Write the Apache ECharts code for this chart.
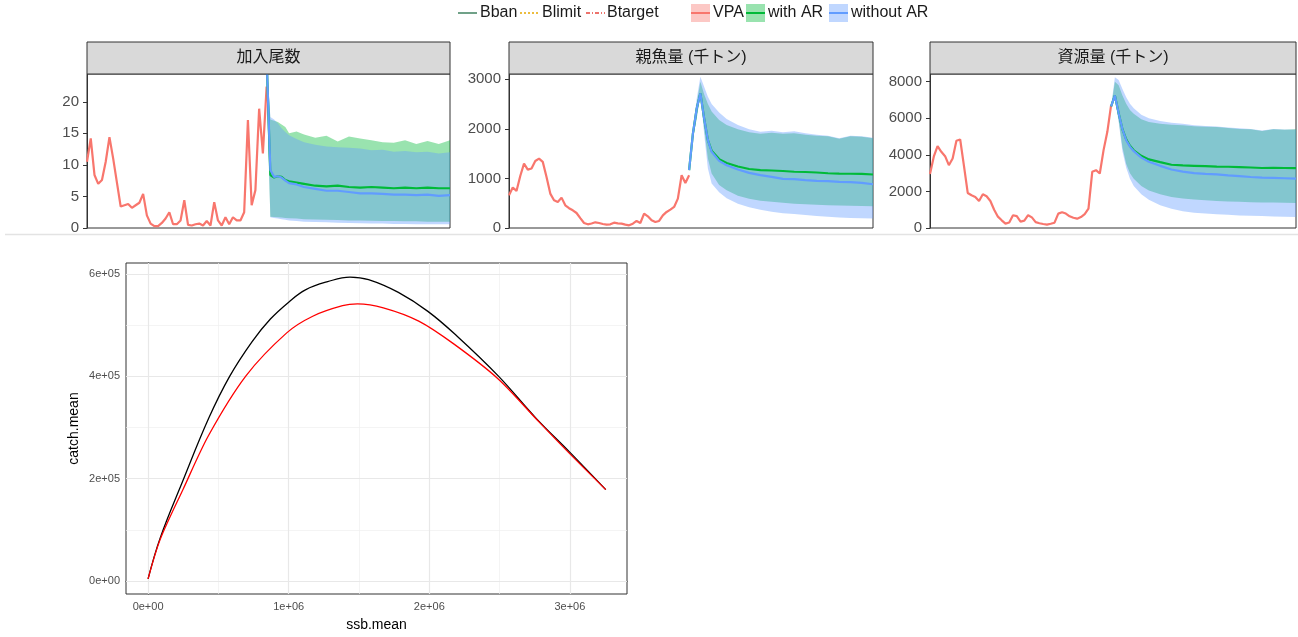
<!DOCTYPE html>
<html><head><meta charset="utf-8">
<script src="https://cdn.jsdelivr.net/npm/echarts@6/dist/echarts.min.js"></script>
<style>html,body{margin:0;padding:0;background:#fff}#c{width:1298px;height:637px}</style>
</head><body><div id="c"></div>
<script>
// ---------- data ----------
const vpaYears = [1970,1971,1972,1973,1974,1975,1976,1977,1978,1979,1980,1981,1982,1983,1984,1985,1986,1987,1988,1989,1990,1991,1992,1993,1994,1995,1996,1997,1998,1999,2000,2001,2002,2003,2004,2005,2006,2007,2008,2009,2010,2011,2012,2013,2014,2015,2016,2017,2018];
const recVPA = [10.5,14.2,8.4,7.0,7.6,10.5,14.4,11.0,7.2,3.4,3.6,3.8,3.2,3.6,4.0,5.4,2.0,0.7,0.3,0.3,0.8,1.5,2.5,0.6,0.6,1.2,4.4,0.5,0.4,0.6,0.7,0.4,1.1,0.4,4.1,1.2,0.4,1.7,0.6,1.7,1.2,1.2,2.5,17.1,3.6,6.0,18.9,11.8,22.4];
const ssbVPA = [660,816,748,1050,1300,1177,1200,1352,1401,1334,1031,694,559,526,613,458,400,357,303,200,101,74,90,115,101,80,67,74,108,95,88,67,54,88,142,101,290,236,155,121,142,256,324,370,425,593,1065,910,1065];
const bioVPA = [2950,3900,4476,4166,3928,3435,3800,4768,4841,3400,1916,1789,1698,1479,1844,1735,1479,1000,620,420,237,300,700,650,350,400,700,580,320,260,220,183,230,290,785,860,790,640,560,510,600,760,1059,3070,3161,2980,4258,5262,6723];

const projYears = [2018,2019,2020,2021,2022,2023,2024,2026,2028,2031,2034,2037,2040,2043,2046,2049,2052,2055,2058,2061,2064,2067];
// 加入尾数
const recBlueMed  = [27,9.2,8.1,8.2,8.0,7.5,7.1,6.9,6.5,6.2,5.9,5.9,5.7,5.5,5.5,5.4,5.3,5.3,5.2,5.3,5.1,5.2];
const recGreenMed = [27,8.4,8.0,8.2,8.1,7.6,7.4,7.2,7.0,6.7,6.6,6.7,6.5,6.4,6.5,6.4,6.3,6.4,6.3,6.4,6.3,6.3];
const recGreenHi  = [27,17.2,17.0,16.8,16.4,16.0,15.0,15.3,14.8,14.3,14.6,13.7,14.5,14.2,13.9,13.6,13.5,13.9,13.3,13.8,13.3,13.9];
const recGreenLo  = [22,1.8,1.75,1.7,1.65,1.6,1.55,1.5,1.4,1.35,1.3,1.25,1.2,1.2,1.15,1.1,1.1,1.05,1.05,1.0,1.0,1.0];
const recBlueHi   = [27,17.6,17.2,16.6,15.8,15.2,14.7,14.1,13.6,13.2,12.9,12.8,12.7,12.6,12.3,12.4,12.1,12.2,12.0,12.1,11.8,12.0];
const recBlueLo   = [22,1.7,1.6,1.5,1.4,1.3,1.2,1.1,1.0,0.95,0.9,0.85,0.8,0.75,0.7,0.7,0.65,0.65,0.6,0.6,0.6,0.6];
// 親魚量
const ssbBlueMed  = [1167,1900,2400,2717,2212,1773,1537,1355,1267,1181,1113,1066,1032,992,985,965,951,945,931,925,910,883];
const ssbGreenMed = [1167,1900,2400,2717,2212,1773,1560,1390,1310,1240,1190,1167,1160,1150,1135,1130,1120,1105,1099,1095,1090,1079];
const ssbBlueHi   = [1167,2000,2600,3050,2850,2650,2500,2330,2200,2080,1990,1940,1960,1930,1950,1910,1880,1860,1810,1860,1850,1820];
const ssbGreenHi  = [1167,1950,2500,2950,2700,2500,2350,2180,2080,1990,1930,1900,1920,1900,1910,1880,1860,1850,1800,1850,1840,1810];
const ssbBlueLo   = [1167,1800,2200,2700,1900,1200,900,720,600,490,420,370,330,300,280,260,240,225,210,200,195,190];
const ssbGreenLo  = [1167,1800,2200,2700,2000,1400,1100,870,760,650,590,550,530,510,490,480,470,460,455,450,445,440];
// 資源量
const bioBlueMed  = [6650,7250,6270,5400,4800,4450,4200,3850,3620,3400,3200,3080,3000,2960,2930,2880,2840,2790,2760,2740,2720,2700];
const bioGreenMed = [6650,7250,6270,5400,4850,4500,4250,3950,3750,3600,3460,3420,3400,3380,3360,3350,3330,3310,3280,3290,3280,3270];
const bioBlueHi   = [6650,8250,8100,7600,7150,6800,6550,6200,6000,5850,5750,5700,5620,5580,5550,5500,5450,5420,5330,5420,5380,5380];
const bioGreenHi  = [6650,8000,7800,7250,6800,6450,6250,5950,5800,5700,5650,5620,5560,5540,5520,5470,5420,5400,5310,5400,5370,5400];
const bioBlueLo   = [6650,7100,5800,4200,3300,2700,2300,1850,1550,1250,1050,920,840,790,750,720,690,670,650,630,610,600];
const bioGreenLo  = [6650,7150,5900,4400,3500,3000,2700,2300,2050,1850,1700,1620,1560,1520,1480,1450,1430,1410,1400,1390,1380,1370];

const panelTitles = ['加入尾数','親魚量 (千トン)','資源量 (千トン)'];
const panelYMax = [24.4, 3107, 8422];
const panelTicks = [[0,5,10,15,20],[0,1000,2000,3000],[0,2000,4000,6000,8000]];

// bottom chart
const ssbBlack   = [0,87000,246000,431000,580000,740000,870000,1000000,1119000,1277000,1436000,1568000,1780000,1990000,2200000,2490000,2760000,2995000,3255000];
const catchBlack = [4500,85000,195000,318000,400000,468000,512000,545000,569000,585000,594000,589000,564000,527000,478000,401000,318000,253000,178700];
const ssbRed     = [0,87000,250000,431000,696000,986000,1171000,1383000,1489000,1673000,1925000,2176000,2490000,2780000,2995000,3255000];
const catchRed   = [4500,82000,180000,285000,401000,485000,517500,538000,541500,534000,508000,463000,395000,311000,250000,178700];
const xTickVals = [0,1000000,2000000,3000000];
const xTickLabels = ['0e+00','1e+06','2e+06','3e+06'];
const yTickVals = [0,200000,400000,600000];
const yTickLabels = ['0e+00','2e+05','4e+05','6e+05'];
const xMinorVals = [500000,1500000,2500000];
const yMinorVals = [100000,300000,500000];

// ---------- styles ----------
const RED = '#F8766D', GREEN = '#00BA38', BLUE = '#619CFF';
const GREEN_FILL = 'rgba(0,186,56,0.4)', BLUE_FILL = 'rgba(97,156,255,0.4)', RED_FILL = 'rgba(248,118,109,0.4)';
const FONT = '"Liberation Sans","Noto Sans CJK JP",sans-serif';
const panels = [{left:87,width:363},{left:509,width:364},{left:930,width:366}];

const pairs = (xs, ys) => xs.map((x, i) => [x, ys[i]]);

function band(idx, lo, hi, fill) {
  const data = projYears.map((y, i) => [y, lo[i], hi[i]]);
  return {
    type: 'custom', xAxisIndex: idx, yAxisIndex: idx, clip: true, silent: true, z: 1,
    encode: {x: 0, y: [1, 2]}, data,
    renderItem(params, api) {
      if (params.dataIndex !== 0) return null;
      const top = data.map(d => api.coord([d[0], d[2]]));
      const bot = data.map(d => api.coord([d[0], d[1]])).reverse();
      return {type: 'polygon', shape: {points: top.concat(bot)}, style: {fill, stroke: null}};
    }
  };
}
function line(idx, xs, ys, color, width, z) {
  return {type: 'line', xAxisIndex: idx, yAxisIndex: idx, data: pairs(xs, ys), symbol: 'none',
    clip: true, lineStyle: {color, width}, itemStyle: {color}, z: z || 3, silent: true};
}

const grids = panels.map(p => ({left: p.left, top: 74, width: p.width, height: 154, show: true,
  borderColor: '#333333', borderWidth: 1, backgroundColor: '#fff'}));
grids.push({left: 126, top: 263, width: 501, height: 334, show: true, borderColor: '#333333', borderWidth: 1, backgroundColor: '#fff'});

const xAxes = panels.map((p, i) => ({type: 'value', gridIndex: i, min: 1970, max: 2067,
  axisLabel: {show: false}, axisTick: {show: false}, axisLine: {show: false}, splitLine: {show: false}}));
xAxes.push({type: 'value', gridIndex: 3, min: -157000, max: 3406000,
  axisLine: {show: true, lineStyle: {color: '#333333'}},
  axisTick: {show: true, length: 4, customValues: xTickVals, lineStyle: {color: '#333333'}},
  axisLabel: {customValues: xTickVals, formatter: v => xTickLabels[xTickVals.indexOf(v)], fontSize: 11, color: '#4D4D4D', margin: 7, fontFamily: FONT},
  splitLine: {show: false},
  name: 'ssb.mean', nameLocation: 'middle', nameGap: 24, nameTextStyle: {fontSize: 14, color: '#000', fontFamily: FONT}});

const yAxes = panels.map((p, i) => ({type: 'value', gridIndex: i, min: 0, max: panelYMax[i],
  axisLine: {show: true, lineStyle: {color: '#333333'}},
  axisTick: {show: true, length: 4, customValues: panelTicks[i], lineStyle: {color: '#333333'}},
  axisLabel: {customValues: panelTicks[i], formatter: v => String(v), fontSize: 15, color: '#4D4D4D', margin: 8, fontFamily: FONT},
  splitLine: {show: false}}));
yAxes.push({type: 'value', gridIndex: 3, min: -25200, max: 621500,
  axisLine: {show: true, lineStyle: {color: '#333333'}},
  axisTick: {show: true, length: 4, customValues: yTickVals, lineStyle: {color: '#333333'}},
  axisLabel: {customValues: yTickVals, formatter: v => yTickLabels[yTickVals.indexOf(v)], fontSize: 11, color: '#4D4D4D', margin: 6, fontFamily: FONT},
  splitLine: {show: false},
  name: 'catch.mean', nameLocation: 'middle', nameGap: 45, nameRotate: 90, nameTextStyle: {fontSize: 14, color: '#000', fontFamily: FONT}});

const series = [];
const sets = [
  [recVPA, recBlueMed, recGreenMed, recBlueLo, recBlueHi, recGreenLo, recGreenHi],
  [ssbVPA, ssbBlueMed, ssbGreenMed, ssbBlueLo, ssbBlueHi, ssbGreenLo, ssbGreenHi],
  [bioVPA, bioBlueMed, bioGreenMed, bioBlueLo, bioBlueHi, bioGreenLo, bioGreenHi]
];
sets.forEach((s, i) => {
  series.push(band(i, s[5], s[6], GREEN_FILL));
  series.push(band(i, s[3], s[4], BLUE_FILL));
  series.push(line(i, vpaYears, s[0], RED, 2.2, 3));
  series.push(line(i, projYears, s[2], GREEN, 2.2, 4));
  series.push(line(i, projYears, s[1], BLUE, 2.2, 5));
});

// bottom chart grid lines (theme_bw style) + curves
series.push({type: 'line', xAxisIndex: 3, yAxisIndex: 3, data: [], z: 1, silent: true,
  markLine: {silent: true, symbol: 'none', label: {show: false}, z: 1, animation: false,
    data: [
      ...xMinorVals.map(v => ({xAxis: v, lineStyle: {color: '#EFEFEF', width: 0.7, type: 'solid'}})),
      ...yMinorVals.map(v => ({yAxis: v, lineStyle: {color: '#EFEFEF', width: 0.7, type: 'solid'}})),
      ...xTickVals.map(v => ({xAxis: v, lineStyle: {color: '#E8E8E8', width: 1.2, type: 'solid'}})),
      ...yTickVals.map(v => ({yAxis: v, lineStyle: {color: '#E8E8E8', width: 1.2, type: 'solid'}}))
    ]}});
series.push({type: 'line', xAxisIndex: 3, yAxisIndex: 3, data: pairs(ssbBlack, catchBlack), symbol: 'none', smooth: 0.4,
  lineStyle: {color: '#000', width: 1.3}, z: 4, silent: true});
series.push({type: 'line', xAxisIndex: 3, yAxisIndex: 3, data: pairs(ssbRed, catchRed), symbol: 'none', smooth: 0.3,
  lineStyle: {color: '#FF0000', width: 1.3}, z: 5, silent: true});

// strips, legend, divider
const graphic = [];
panels.forEach((p, i) => {
  graphic.push({type: 'rect', z: 100, shape: {x: p.left, y: 42, width: p.width, height: 32},
    style: {fill: '#D9D9D9', stroke: '#333333', lineWidth: 1}});
  graphic.push({type: 'text', z: 101, x: p.left + p.width / 2, y: 58,
    style: {text: panelTitles[i], fill: '#1A1A1A', font: '16px ' + FONT, align: 'center', verticalAlign: 'middle'}});
});
graphic.push({type: 'line', z: 100, shape: {x1: 5, y1: 234.5, x2: 1298, y2: 234.5}, style: {stroke: '#E3E3E3', lineWidth: 1.5}});

const legendLines = [
  {name: 'Bban', x: 458, tx: 480, color: '#226E47', dash: null},
  {name: 'Blimit', x: 520, tx: 542, color: '#E6A800', dash: [2, 2]},
  {name: 'Btarget', x: 586, tx: 607, color: '#E8453C', dash: [4, 2, 1, 2]}
];
legendLines.forEach(l => {
  graphic.push({type: 'line', z: 100, shape: {x1: l.x, y1: 13, x2: l.x + 19, y2: 13},
    style: {stroke: l.color, lineWidth: 1.3, lineDash: l.dash}});
  graphic.push({type: 'text', z: 100, x: l.tx, y: 13,
    style: {text: l.name, fill: '#1A1A1A', font: '16px ' + FONT, verticalAlign: 'middle'}});
});
const legendFills = [
  {name: 'VPA', x: 691, tx: 713, fill: RED_FILL, color: RED},
  {name: 'with AR', x: 746, tx: 768, fill: GREEN_FILL, color: GREEN},
  {name: 'without AR', x: 829, tx: 851, fill: BLUE_FILL, color: BLUE}
];
legendFills.forEach(l => {
  graphic.push({type: 'rect', z: 100, shape: {x: l.x, y: 4, width: 19, height: 18}, style: {fill: l.fill}});
  graphic.push({type: 'line', z: 101, shape: {x1: l.x, y1: 13, x2: l.x + 19, y2: 13}, style: {stroke: l.color, lineWidth: 2}});
  graphic.push({type: 'text', z: 100, x: l.tx, y: 13,
    style: {text: l.name, fill: '#1A1A1A', font: '16px ' + FONT, verticalAlign: 'middle'}});
});

const chart = echarts.init(document.getElementById('c'), null, {renderer: 'canvas'});
chart.setOption({
  animation: false,
  backgroundColor: '#fff',
  textStyle: {fontFamily: FONT},
  grid: grids, xAxis: xAxes, yAxis: yAxes, series, graphic
});
</script></body></html>
